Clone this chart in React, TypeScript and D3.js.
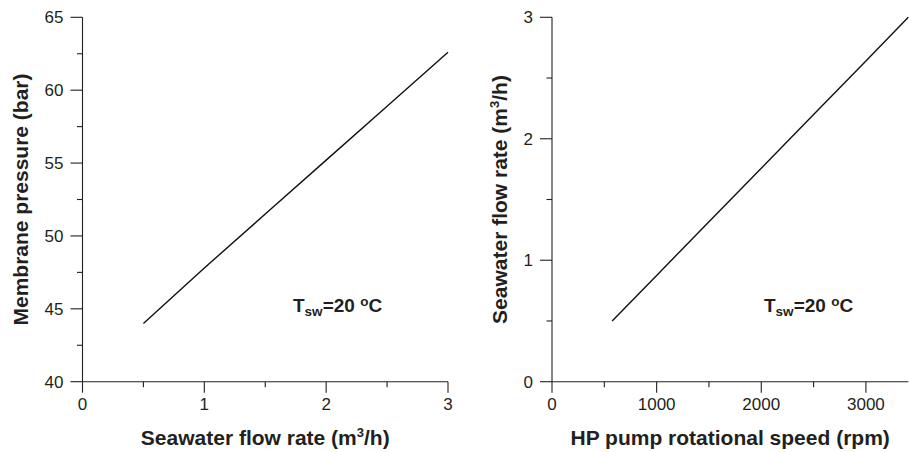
import React from "react";
import * as d3 from "d3";

const leftFlow = [0.5, 1, 1.5, 2, 2.5, 3];
const leftPressure = [44.0, 47.8, 51.5, 55.2, 58.9, 62.6];
const rightSpeed = [575, 1000, 1500, 2000, 2500, 3000, 3405];
const rightFlow = [0.5, 0.875, 1.317, 1.758, 2.199, 2.64, 3.0];

const leftXTicks = [0, 1, 2, 3];
const leftXMinor = [0.5, 1.5, 2.5];
const leftYTicks = [40, 45, 50, 55, 60, 65];
const leftYMinor = [42.5, 47.5, 52.5, 57.5, 62.5];
const rightXTicks = [0, 1000, 2000, 3000];
const rightXMinor = [500, 1500, 2500];
const rightYTicks = [0, 1, 2, 3];
const rightYMinor = [0.5, 1.5, 2.5];

const INK = "#231f20";
const FONT = "'Liberation Sans', Arial, Helvetica, sans-serif";

type PanelProps = {
  xDomain: [number, number];
  xRange: [number, number];
  yDomain: [number, number];
  xs: number[];
  ys: number[];
  xTicks: number[];
  xMinor: number[];
  yTicks: number[];
  yMinor: number[];
  xTitle: React.ReactNode;
  yTitle: React.ReactNode;
  yTitleX: number;
  annX: number;
};

function Panel(p: PanelProps) {
  const x = d3.scaleLinear().domain(p.xDomain).range(p.xRange);
  const y = d3.scaleLinear().domain(p.yDomain).range([381.7, 17.3]);
  const x0 = p.xRange[0];
  const yb = y(p.yDomain[0]);
  const line = d3
    .line<number>()
    .x((_, i) => x(p.xs[i]))
    .y((d) => y(d));
  const cx = (p.xRange[0] + p.xRange[1]) / 2;
  return (
    <g fontFamily={FONT} fill={INK}>
      <line x1={x0} x2={x0} y1={y(p.yDomain[1])} y2={yb} stroke={INK} strokeWidth={1.1} />
      <line x1={x0} x2={p.xRange[1]} y1={yb} y2={yb} stroke={INK} strokeWidth={1.1} />
      {p.yTicks.map((t) => (
        <g key={"yt" + t}>
          <line x1={x0 - 12} x2={x0} y1={y(t)} y2={y(t)} stroke={INK} strokeWidth={1.1} />
          <text x={x0 - 19} y={y(t)} dy="0.36em" textAnchor="end" fontSize={17}>
            {t}
          </text>
        </g>
      ))}
      {p.yMinor.map((t) => (
        <line key={"ym" + t} x1={x0 - 5.5} x2={x0} y1={y(t)} y2={y(t)} stroke={INK} strokeWidth={1.1} />
      ))}
      {p.xTicks.map((t) => (
        <g key={"xt" + t}>
          <line x1={x(t)} x2={x(t)} y1={yb} y2={yb + 11} stroke={INK} strokeWidth={1.1} />
          <text x={x(t)} y={409.5} textAnchor="middle" fontSize={17}>
            {t}
          </text>
        </g>
      ))}
      {p.xMinor.map((t) => (
        <line key={"xm" + t} x1={x(t)} x2={x(t)} y1={yb} y2={yb + 5.5} stroke={INK} strokeWidth={1.1} />
      ))}
      <path d={line(p.ys) || ""} fill="none" stroke="#111" strokeWidth={1.4} />
      <text x={cx} y={445} textAnchor="middle" fontSize={21} fontWeight="bold">
        {p.xTitle}
      </text>
      <text
        transform={`translate(${p.yTitleX},${(y(p.yDomain[0]) + y(p.yDomain[1])) / 2}) rotate(-90)`}
        textAnchor="middle"
        fontSize={21}
        fontWeight="bold"
      >
        {p.yTitle}
      </text>
      <text x={p.annX} y={311.7} fontSize={19} fontWeight="bold">
        T
        <tspan fontSize={13.5} dy={4}>sw</tspan>
        <tspan dy={-4}>=20 </tspan>
        <tspan fontSize={13.5} dy={-6}>o</tspan>
        <tspan dy={6}>C</tspan>
      </text>
    </g>
  );
}

const Sup3 = () => (
  <>
    <tspan fontSize={13} dy={-8}>3</tspan>
    <tspan dy={8}>/h)</tspan>
  </>
);

export default function App() {
  return (
    <svg
      width={909}
      height={452}
      viewBox="0 0 909 452"
      style={{ position: "absolute", left: 0, top: 0, background: "#fff" }}
    >
      <rect width={909} height={452} fill="#fff" />
      <Panel
        xDomain={[0, 3]}
        xRange={[82.5, 448]}
        yDomain={[40, 65]}
        xs={leftFlow}
        ys={leftPressure}
        xTicks={leftXTicks}
        xMinor={leftXMinor}
        yTicks={leftYTicks}
        yMinor={leftYMinor}
        xTitle={
          <>
            Seawater flow rate (m<Sup3 />
          </>
        }
        yTitle="Membrane pressure (bar)"
        yTitleX={28}
        annX={293}
      />
      <Panel
        xDomain={[0, 3405]}
        xRange={[552, 908.3]}
        yDomain={[0, 3]}
        xs={rightSpeed}
        ys={rightFlow}
        xTicks={rightXTicks}
        xMinor={rightXMinor}
        yTicks={rightYTicks}
        yMinor={rightYMinor}
        xTitle="HP pump rotational speed (rpm)"
        yTitle={
          <>
            Seawater flow rate (m<Sup3 />
          </>
        }
        yTitleX={507}
        annX={764}
      />
    </svg>
  );
}
